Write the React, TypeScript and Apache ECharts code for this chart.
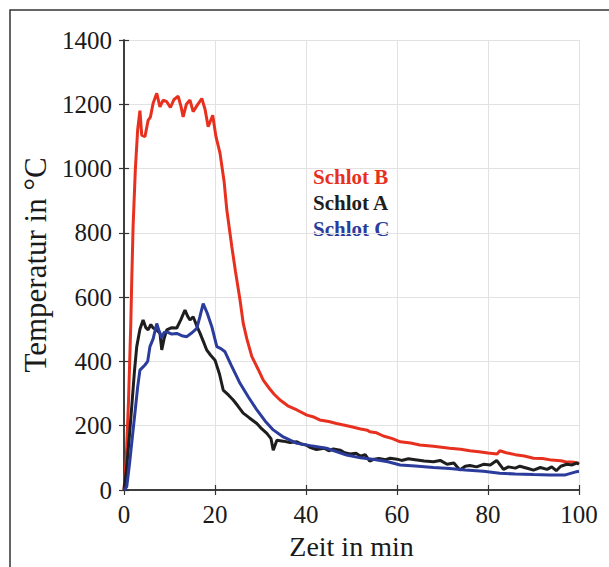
import React, { useEffect, useRef } from "react";
import * as echarts from "echarts";

const xTicks = [0, 20, 40, 60, 80, 100];
const yTicks = [0, 200, 400, 600, 800, 1000, 1200, 1400];

const legendNames = ["Schlot B", "Schlot A", "Schlot C"];

// Schlot B (red)
const tB = [0, 0.5, 1, 1.5, 1.7, 2, 2.5, 3, 3.5, 3.9, 4.6, 5.3, 5.8, 6.4, 7.2, 7.9, 8.6, 9.4, 10.2, 11, 11.9, 12.5, 13, 13.7, 14.5, 15.2, 16, 17.1, 17.8, 18.5, 19.5, 20.2, 21.1, 22, 22.6, 23.7, 24.5, 25.5, 26.2, 27, 28.1, 29.5, 30.6, 32, 33, 34.3, 36, 38, 40.2, 41.5, 43, 45, 46.7, 48, 50, 52, 53.5, 54, 55.5, 57, 59, 60.7, 63, 65, 68, 71.6, 74, 76, 78, 80, 82, 82.6, 84, 86, 88, 90, 92, 94, 96, 97, 99, 100];
const vB = [0, 100, 280, 520, 650, 820, 1000, 1120, 1180, 1104, 1099, 1150, 1160, 1203, 1234, 1192, 1213, 1208, 1190, 1215, 1225, 1195, 1161, 1200, 1213, 1177, 1195, 1218, 1185, 1130, 1166, 1100, 1048, 960, 871, 757, 680, 591, 519, 470, 415, 375, 342, 315, 298, 280, 262, 249, 233, 228, 218, 213, 207, 203, 197, 190, 186, 181, 178, 168, 160, 150, 146, 140, 136, 130, 127, 122, 119, 115, 112, 122, 116, 110, 106, 99, 98, 93, 91, 88, 86, 83];

// Schlot A (black)
const tA = [0, 0.6, 1.2, 1.7, 2.3, 2.8, 3.5, 4.2, 4.8, 5.3, 5.9, 6.4, 7, 7.9, 8.3, 8.8, 9.4, 10.5, 11.6, 12.5, 13.4, 14, 14.5, 15.2, 16, 16.7, 17.5, 18.2, 19, 20, 21, 21.8, 23, 24, 25, 26.2, 27.5, 29.2, 30.3, 31.4, 32.3, 32.8, 33.6, 35, 36.5, 38, 39, 40, 41, 42.3, 44, 45, 46, 47.5, 48.5, 49.7, 51, 52, 53, 54, 55, 56, 57.5, 58.5, 60, 61, 62.5, 64, 66, 68, 69.5, 71, 72.5, 73.8, 75, 76, 77.5, 79, 80.5, 81.9, 83.4, 84.5, 86, 87, 88, 89, 90, 91.5, 93, 94, 95, 96, 97.3, 98.5, 99.5, 100];
const vA = [0, 72, 170, 259, 370, 446, 500, 529, 505, 498, 515, 504, 500, 488, 436, 470, 498, 505, 504, 530, 560, 540, 529, 539, 510, 488, 460, 435, 420, 404, 360, 311, 295, 280, 262, 239, 225, 207, 190, 176, 160, 124, 155, 152, 148, 150, 143, 140, 132, 126, 130, 122, 128, 124, 116, 112, 114, 105, 110, 90, 96, 98, 94, 99, 96, 92, 97, 94, 90, 88, 92, 80, 84, 62, 74, 76, 72, 80, 78, 92, 64, 72, 68, 74, 70, 66, 62, 70, 64, 72, 60, 74, 80, 78, 84, 80];

// Schlot C (blue)
const tC = [0, 0.6, 1.2, 1.8, 2.4, 3, 3.5, 4.6, 5.2, 5.7, 6.4, 7.2, 7.7, 8.3, 8.8, 9.4, 10.5, 11.6, 12.7, 13.8, 15, 16, 16.7, 17.4, 18.3, 19.3, 20.4, 21.3, 22.2, 23.5, 25.5, 27.3, 29.2, 31, 32.8, 35, 38, 41, 44.5, 46.5, 48.9, 52, 55, 58, 60.7, 64, 68, 71.6, 75, 79, 82.6, 86, 90, 93.6, 97, 99.5, 100];
const vC = [0, 10, 80, 160, 239, 320, 373, 389, 400, 446, 470, 518, 495, 472, 490, 492, 485, 487, 480, 477, 490, 503, 540, 580, 550, 508, 446, 440, 430, 390, 332, 290, 249, 215, 187, 165, 145, 138, 130, 120, 109, 100, 95, 88, 78, 75, 70, 67, 62, 58, 52, 50, 48, 47, 47, 57, 58];

const colors = ["#e8301f", "#1e1e1e", "#2b3c9c"];

const zip = (t: number[], v: number[]) => t.map((x, i) => [x, v[i]]);

export default function App() {
  const ref = useRef<HTMLDivElement>(null);
  useEffect(() => {
    if (!ref.current) return;
    const chart = echarts.init(ref.current, undefined, { renderer: "svg" });
    const font = "'Liberation Serif', 'DejaVu Serif', serif";
    const axisCommon = {
      min: 0,
      axisLine: { show: true, lineStyle: { color: "#333", width: 1.5 } },
      axisTick: { show: true, inside: true, length: 5, lineStyle: { color: "#333", width: 1.2 } },
    };
    chart.setOption({
      animation: false,
      backgroundColor: "#ffffff",
      grid: { left: 124, right: 30, top: 40, bottom: 77, containLabel: false },
      xAxis: [
        {
          ...axisCommon,
          type: "value",
          max: 100,
          interval: 20,
          position: "bottom",
          axisLabel: { color: "#1a1a1a", fontSize: 25, fontFamily: font, margin: 12, formatter: (v: number) => String(v) },
          splitLine: { show: true, lineStyle: { color: "#e2e2e2", width: 1 } },
          name: "Zeit in min",
          nameLocation: "middle",
          nameGap: 42,
          nameTextStyle: { color: "#1a1a1a", fontSize: 28, fontFamily: font },
        },
        {
          ...axisCommon,
          type: "value",
          max: 100,
          interval: 20,
          position: "top",
          axisLabel: { show: false },
          splitLine: { show: false },
        },
      ],
      yAxis: [
        {
          ...axisCommon,
          type: "value",
          max: 1400,
          interval: 200,
          position: "left",
          axisLabel: { color: "#1a1a1a", fontSize: 25, fontFamily: font, margin: 12, formatter: (v: number) => String(v) },
          splitLine: { show: true, lineStyle: { color: "#e2e2e2", width: 1 } },
          name: "Temperatur in °C",
          nameLocation: "middle",
          nameGap: 64,
          nameTextStyle: { color: "#1a1a1a", fontSize: 31, fontFamily: font },
        },
        {
          ...axisCommon,
          type: "value",
          max: 1400,
          interval: 200,
          position: "right",
          axisLabel: { show: false },
          splitLine: { show: false },
        },
      ],
      series: [
        { name: legendNames[0], data: zip(tB, vB), color: colors[0] },
        { name: legendNames[1], data: zip(tA, vA), color: colors[1] },
        { name: legendNames[2], data: zip(tC, vC), color: colors[2] },
      ].map((s) => ({
        type: "line",
        name: s.name,
        data: s.data,
        xAxisIndex: 0,
        yAxisIndex: 0,
        showSymbol: false,
        lineStyle: { color: s.color, width: 3 },
        itemStyle: { color: s.color },
      })),
      graphic: [
        {
          type: "rect",
          shape: { x: 10, y: 10, width: 640, height: 620 },
          style: { fill: "none", stroke: "#333", lineWidth: 1.5 },
          silent: true,
        },
        ...legendNames.map((n, i) => ({
          type: "text",
          left: 313,
          top: 166 + i * 26,
          style: {
            text: n,
            fill: colors[i],
            font: `bold 21px ${font}`,
          },
        })),
      ],
    });
    return () => chart.dispose();
  }, []);
  return (
    <div
      ref={ref}
      style={{ position: "absolute", left: 0, top: 0, width: 609, height: 567 }}
    />
  );
}
